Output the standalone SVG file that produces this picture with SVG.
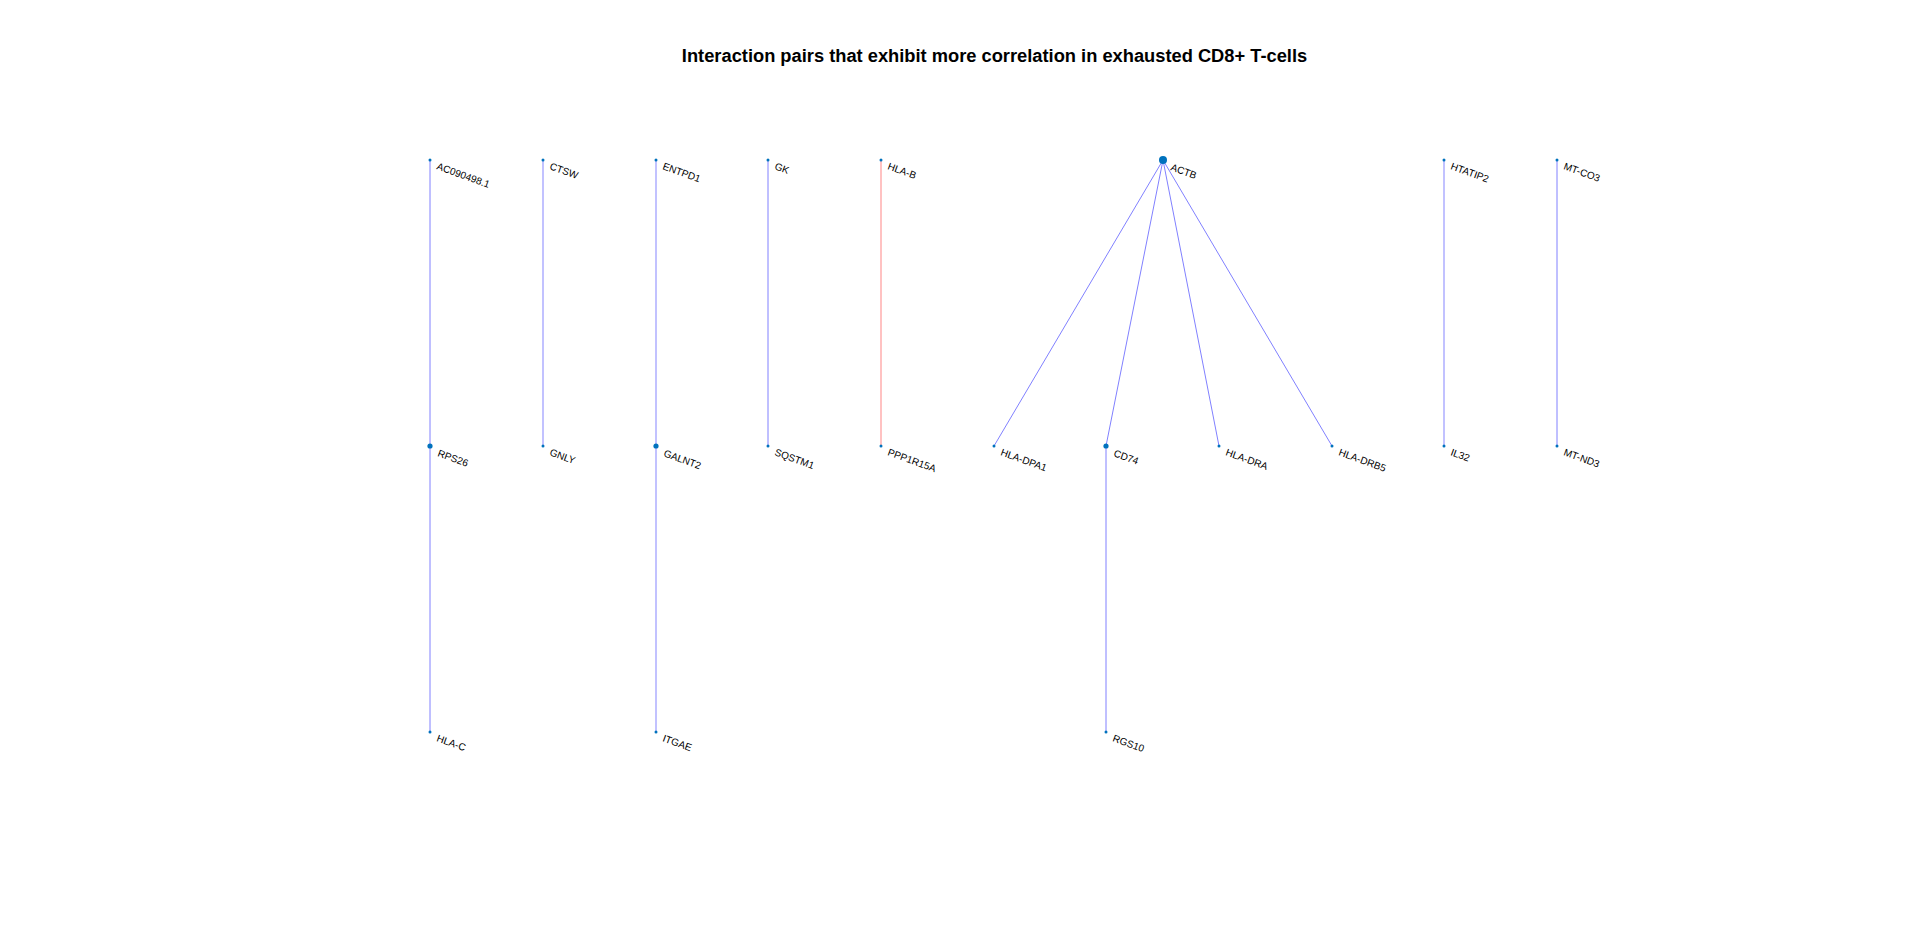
<svg xmlns="http://www.w3.org/2000/svg" width="1920" height="926" viewBox="0 0 1920 926">
<style>
.t{font-family:"Liberation Sans",Arial,sans-serif;font-size:18.3px;font-weight:bold;fill:#000}
.l{font-family:"Liberation Sans",Arial,sans-serif;font-size:10px;fill:#000}
.n{fill:#0072BD}
.e{stroke:#8080ff;stroke-width:1;fill:none}
.e2{stroke:#b3b3ff;stroke-width:1.6;fill:none}
.r{stroke:#ff9999;stroke-width:1.2;fill:none}
</style>
<rect width="1920" height="926" fill="#fff"/>
<text class="t" x="994.5" y="62" text-anchor="middle">Interaction pairs that exhibit more correlation in exhausted CD8+ T-cells</text>
<g id="connectors">
<line class="e" x1="430" y1="160" x2="430" y2="446"/>
<line class="e" x1="430" y1="446" x2="430" y2="732"/>
<line class="e2" x1="543" y1="160" x2="543" y2="446"/>
<line class="e2" x1="656" y1="160" x2="656" y2="446"/>
<line class="e2" x1="656" y1="446" x2="656" y2="732"/>
<line class="e" x1="768" y1="160" x2="768" y2="446"/>
<line class="r" x1="881" y1="160" x2="881" y2="446"/>
<line class="e" x1="1163" y1="160" x2="994" y2="446"/>
<line class="e" x1="1163" y1="160" x2="1106" y2="446"/>
<line class="e" x1="1163" y1="160" x2="1219" y2="446"/>
<line class="e" x1="1163" y1="160" x2="1332" y2="446"/>
<line class="e" x1="1106" y1="446" x2="1106" y2="732"/>
<line class="e2" x1="1444" y1="160" x2="1444" y2="446"/>
<line class="e" x1="1557" y1="160" x2="1557" y2="446"/>
</g>
<g id="AC090498.1"><circle class="n" cx="430" cy="160" r="1.5"/><text class="l" transform="translate(436,169) rotate(20)">AC090498.1</text></g>
<g id="RPS26"><circle class="n" cx="430" cy="446" r="2.6"/><text class="l" transform="translate(437,456) rotate(20)">RPS26</text></g>
<g id="HLA-C"><circle class="n" cx="430" cy="732" r="1.5"/><text class="l" transform="translate(436,741) rotate(20)">HLA-C</text></g>
<g id="CTSW"><circle class="n" cx="543" cy="160" r="1.5"/><text class="l" transform="translate(549,169) rotate(20)">CTSW</text></g>
<g id="GNLY"><circle class="n" cx="543" cy="446" r="1.5"/><text class="l" transform="translate(549,455) rotate(20)">GNLY</text></g>
<g id="ENTPD1"><circle class="n" cx="656" cy="160" r="1.5"/><text class="l" transform="translate(662,169) rotate(20)">ENTPD1</text></g>
<g id="GALNT2"><circle class="n" cx="656" cy="446" r="2.6"/><text class="l" transform="translate(663,456) rotate(20)">GALNT2</text></g>
<g id="ITGAE"><circle class="n" cx="656" cy="732" r="1.5"/><text class="l" transform="translate(662,741) rotate(20)">ITGAE</text></g>
<g id="GK"><circle class="n" cx="768" cy="160" r="1.5"/><text class="l" transform="translate(774,169) rotate(20)">GK</text></g>
<g id="SQSTM1"><circle class="n" cx="768" cy="446" r="1.5"/><text class="l" transform="translate(774,455) rotate(20)">SQSTM1</text></g>
<g id="HLA-B"><circle class="n" cx="881" cy="160" r="1.5"/><text class="l" transform="translate(887,169) rotate(20)">HLA-B</text></g>
<g id="PPP1R15A"><circle class="n" cx="881" cy="446" r="1.5"/><text class="l" transform="translate(887,455) rotate(20)">PPP1R15A</text></g>
<g id="ACTB"><circle class="n" cx="1163" cy="160" r="4"/><text class="l" transform="translate(1170,170) rotate(20)">ACTB</text></g>
<g id="HLA-DPA1"><circle class="n" cx="994" cy="446" r="1.5"/><text class="l" transform="translate(1000,455) rotate(20)">HLA-DPA1</text></g>
<g id="CD74"><circle class="n" cx="1106" cy="446" r="2.6"/><text class="l" transform="translate(1113,456) rotate(20)">CD74</text></g>
<g id="HLA-DRA"><circle class="n" cx="1219" cy="446" r="1.5"/><text class="l" transform="translate(1225,455) rotate(20)">HLA-DRA</text></g>
<g id="HLA-DRB5"><circle class="n" cx="1332" cy="446" r="1.5"/><text class="l" transform="translate(1338,455) rotate(20)">HLA-DRB5</text></g>
<g id="RGS10"><circle class="n" cx="1106" cy="732" r="1.5"/><text class="l" transform="translate(1112,741) rotate(20)">RGS10</text></g>
<g id="HTATIP2"><circle class="n" cx="1444" cy="160" r="1.5"/><text class="l" transform="translate(1450,169) rotate(20)">HTATIP2</text></g>
<g id="IL32"><circle class="n" cx="1444" cy="446" r="1.5"/><text class="l" transform="translate(1450,455) rotate(20)">IL32</text></g>
<g id="MT-CO3"><circle class="n" cx="1557" cy="160" r="1.5"/><text class="l" transform="translate(1563,169) rotate(20)">MT-CO3</text></g>
<g id="MT-ND3"><circle class="n" cx="1557" cy="446" r="1.5"/><text class="l" transform="translate(1563,455) rotate(20)">MT-ND3</text></g>
</svg>
